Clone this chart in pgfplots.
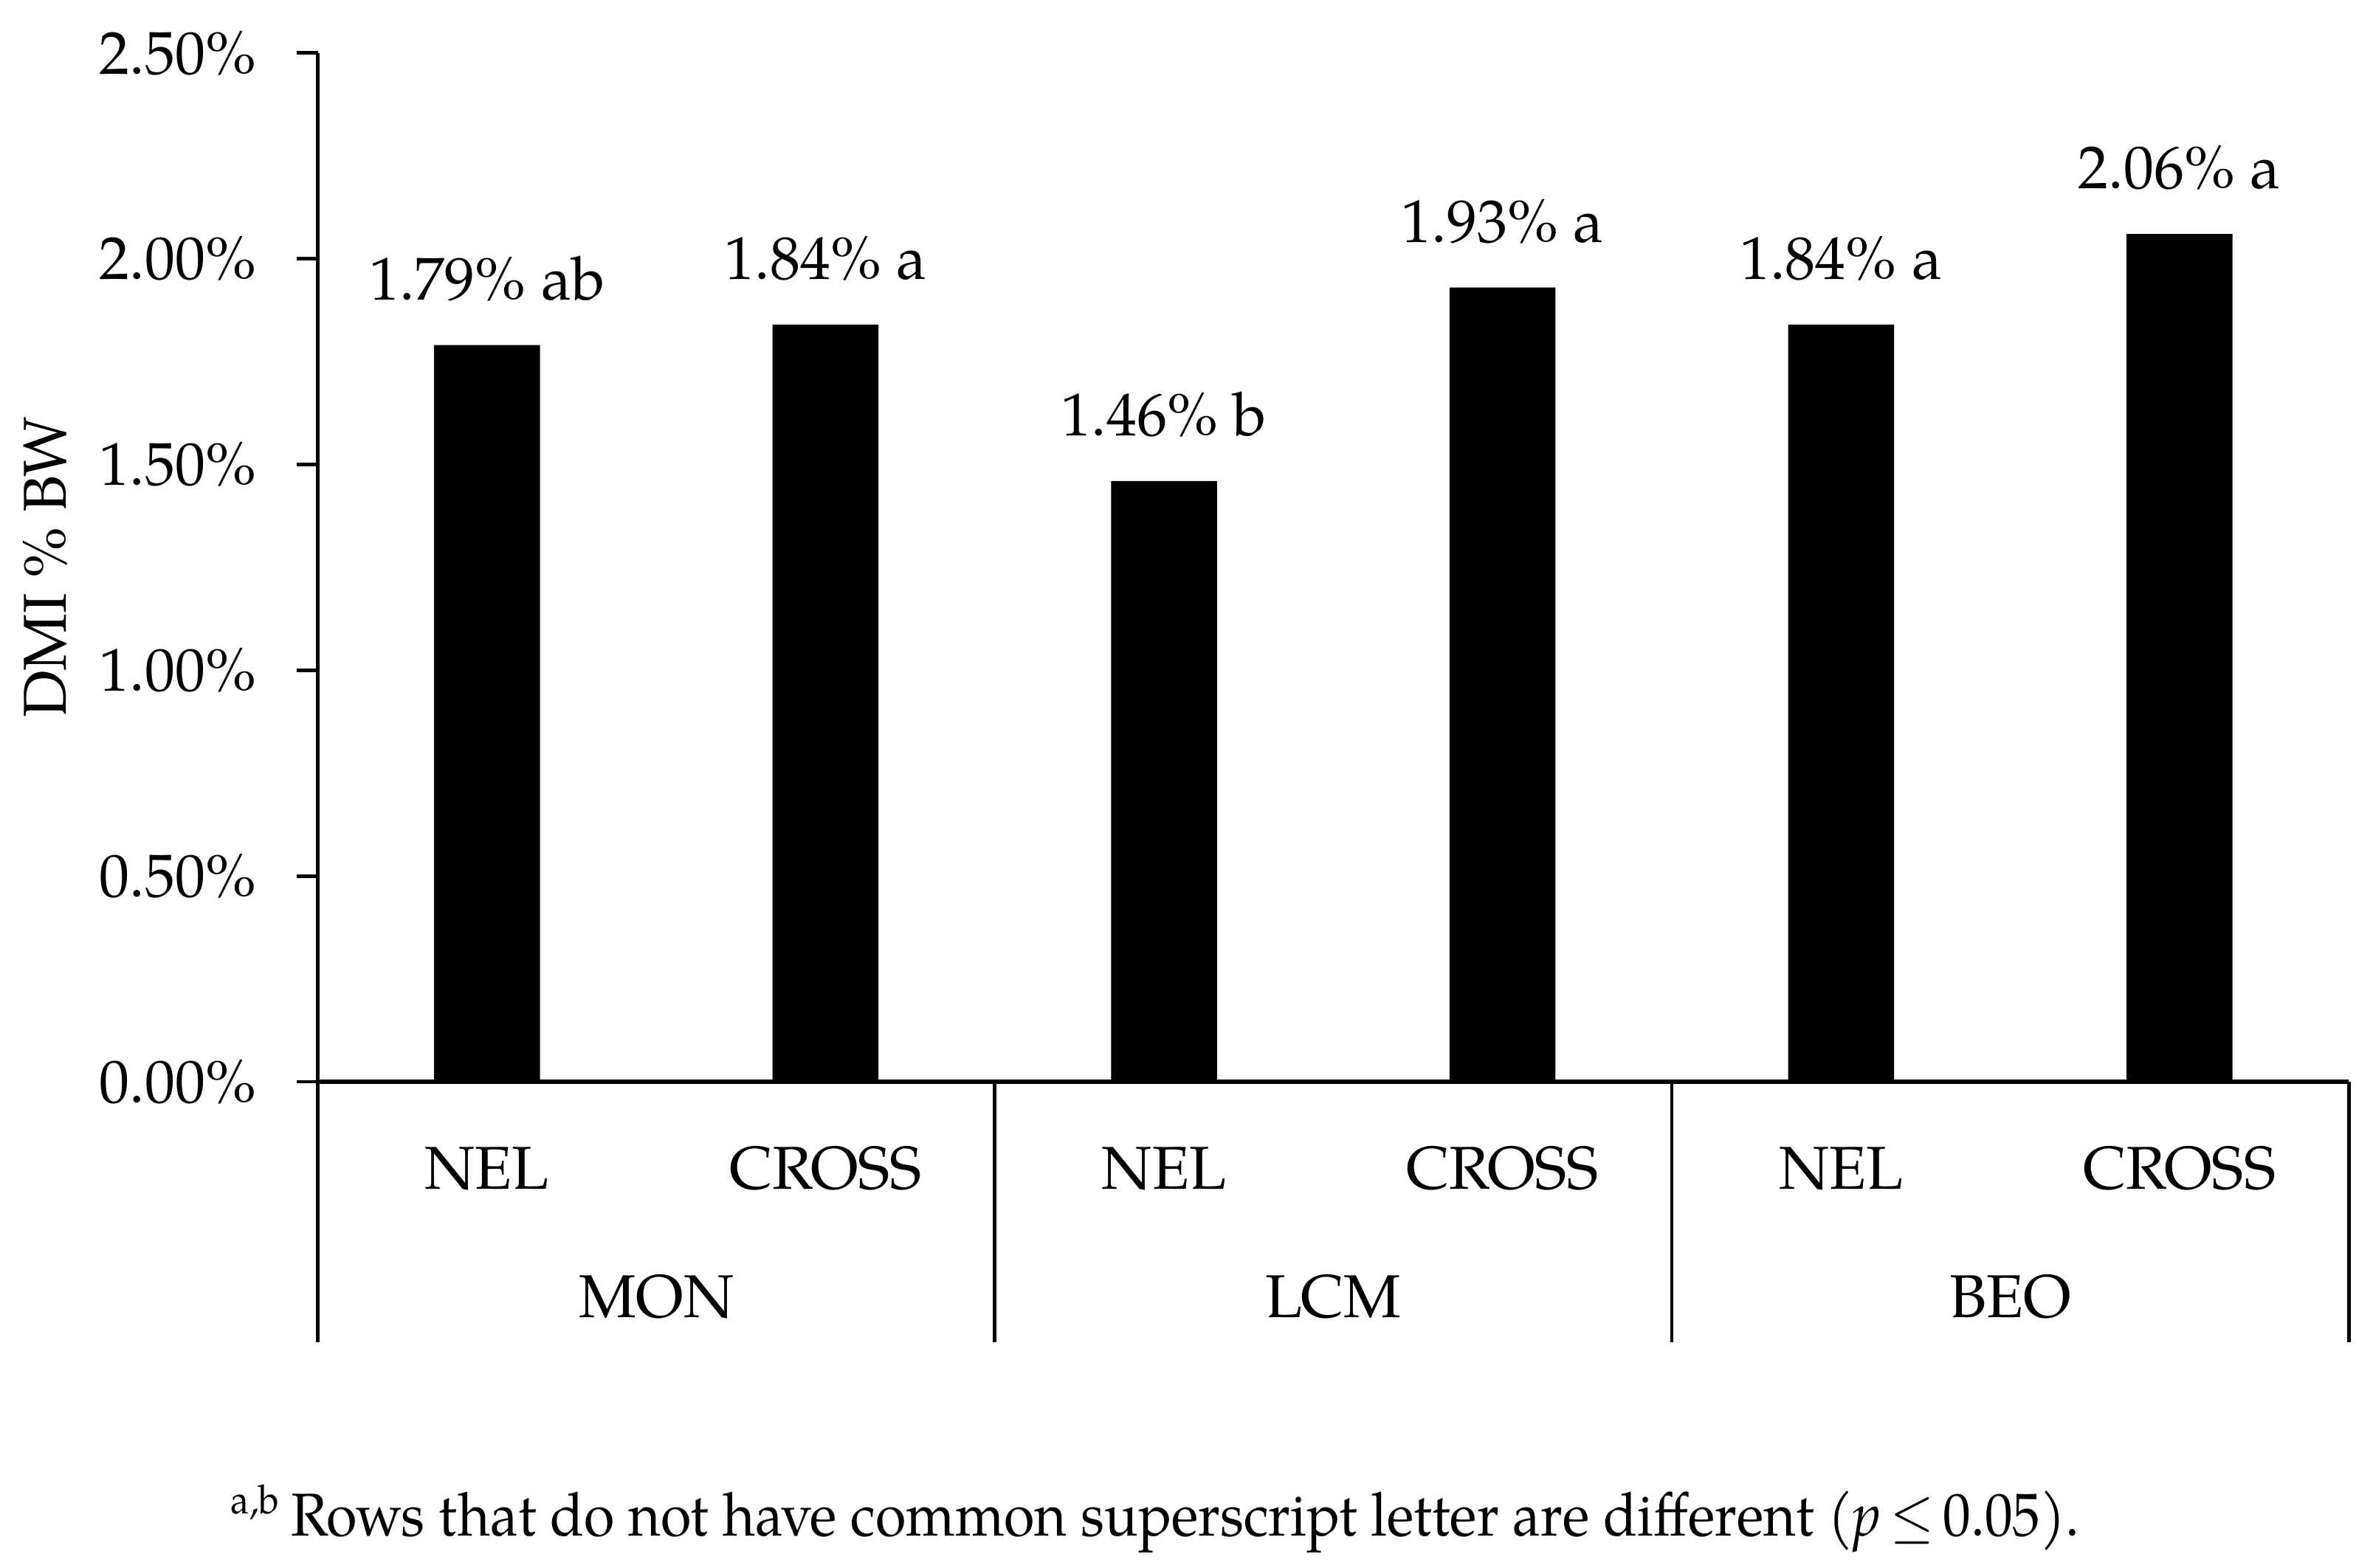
\documentclass[border=0pt]{standalone}
\usepackage{fontspec}
\setmainfont{TeX Gyre Pagella}
\usepackage{pgfplots}
\pgfplotsset{compat=1.18}
\newcommand\cf{\fontsize{12}{14.4}\selectfont}
\begin{document}
\cf
\begin{tikzpicture}
\begin{axis}[
  scale only axis, width=402.6pt, height=204pt,
  xmin=-0.5, xmax=5.5, ymin=0, ymax=2.5,
  axis lines=left, axis line style={-},
  x axis line style={line width=1pt},
  y axis line style={line width=0.7pt},
  tick align=outside, major tick length=4.2pt,
  ytick={0,0.5,1,1.5,2,2.5},
  ytick style={line width=0.7pt, black},
  yticklabel={\pgfmathprintnumber[fixed,fixed zerofill,precision=2]{\tick}\%},
  yticklabel style={xshift=-3.8pt},
  /pgf/number format/assume math mode=true,
  xtick={0,1,2,3,4,5},
  xticklabels={NEL,CROSS,NEL,CROSS,NEL,CROSS},
  xtick style={draw=none},
  xticklabel style={anchor=base, yshift=-17.1pt},
  every tick label/.append style={font=\cf},
  ybar, bar width=21pt,
  point meta=explicit symbolic,
  nodes near coords,
  every node near coord/.append style={anchor=base, yshift=9pt, font=\cf, black},
  clip=false,
]
\addplot[fill=black, draw=none] coordinates {
  (0,1.79) [1.79\% ab]
  (1,1.84) [1.84\% a]
  (2,1.46) [1.46\% b]
  (3,1.93) [1.93\% a]
  (4,1.84) [1.84\% a]
  (5,2.06) [2.06\% a]
};
\draw[line width=0.7pt] (axis cs:-0.5,0) -- ([yshift=-51.6pt]axis cs:-0.5,0);
\draw[line width=0.7pt] (axis cs:1.5,0) -- ([yshift=-51.6pt]axis cs:1.5,0);
\draw[line width=0.7pt] (axis cs:3.5,0) -- ([yshift=-51.6pt]axis cs:3.5,0);
\draw[line width=0.7pt] (axis cs:5.5,0) -- ([yshift=-51.6pt]axis cs:5.5,0);
\node[anchor=base, font=\cf] at ([yshift=-46.8pt]axis cs:0.5,0) {MON};
\node[anchor=base, font=\cf] at ([yshift=-46.8pt]axis cs:2.5,0) {LCM};
\node[anchor=base, font=\cf] at ([yshift=-46.8pt]axis cs:4.5,0) {BEO};
\node[rotate=90, font=\cf] at ([xshift=-54pt]axis description cs:0,0.5) {DMI \% BW};
\node[anchor=base west, font=\cf, xscale=0.92, inner sep=0pt] at ([xshift=-17.4pt, yshift=-90pt]axis cs:-0.5,0)
  {\textsuperscript{a,b}\,Rows that do not have common superscript letter are different (\textit{p}\,$\leq$\,0.05).};
\path ([xshift=-63pt, yshift=-96.3pt]axis cs:-0.5,0) rectangle ([xshift=407.4pt, yshift=214.5pt]axis cs:-0.5,0);
\end{axis}
\end{tikzpicture}
\end{document}
